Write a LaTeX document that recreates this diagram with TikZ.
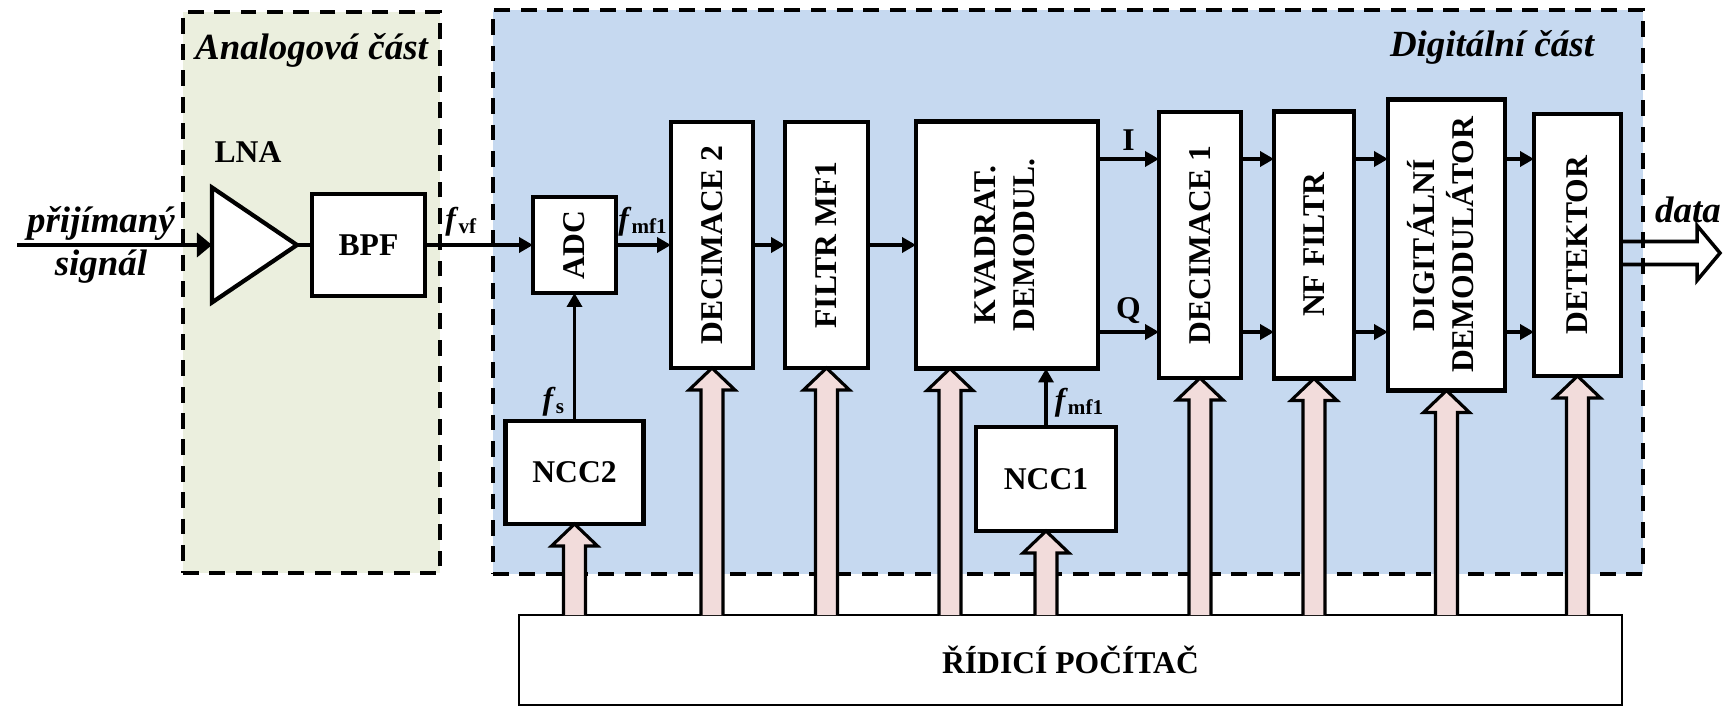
\documentclass[tikz,border=0pt]{standalone}
\usepackage{fontspec}
\setmainfont{Liberation Serif}
\usepackage{tikz}
\usetikzlibrary{arrows.meta, positioning, shapes.geometric, calc}
\definecolor{analogfill}{HTML}{EBEFDE}
\definecolor{digitalfill}{HTML}{C6D9F0}
\definecolor{busfill}{HTML}{F2DCDB}

\begin{document}
\begin{tikzpicture}[
    blk/.style={rectangle, draw, fill=white, line width=1.2pt, inner sep=0pt, outer sep=0pt, align=center, font=\fontsize{9}{11}\selectfont\bfseries},
    region/.style={rectangle, draw, fill=#1, line width=1.2pt, dash pattern=on 4.5pt off 3pt, inner sep=0pt, outer sep=0pt},
    part/.style={font=\fontsize{10.5}{12}\selectfont\bfseries\itshape, inner sep=1pt},
    amp/.style={isosceles triangle, isosceles triangle stretches, draw, fill=white, line width=1.2pt, inner sep=0pt, outer sep=0pt, minimum width=1.15cm, minimum height=0.85cm},
    wire/.style={line width=1pt},
    sig/.style={wire, -{Triangle[length=1.4mm, width=1.5mm]}},
    bus/.style={draw, fill=busfill, line width=0.9pt},
    freq/.style={font=\fontsize{9}{11}\selectfont\bfseries, inner sep=2pt},
  ]
  \useasboundingbox (0,0) rectangle (17.29,7.07);

  % analog and digital parts
  \node[region=analogfill, minimum width=2.57cm, minimum height=5.61cm, anchor=south west] (analog) at (1.83,1.34) {};
  \node[region=digitalfill, minimum width=11.50cm, minimum height=5.64cm, anchor=south west] (digital) at (4.93,1.33) {};
  \node[part] (analoglbl) at ([yshift=-3.8mm]analog.north) {Analogová část};
  \node[part] (digitallbl) at ([xshift=-15.1mm, yshift=-3.7mm]digital.north east) {Digitální část};

  % receive chain
  \node[blk, minimum width=1.13cm, minimum height=1.02cm] (bpf) at (3.685,4.62) {BPF};
  \node[amp, left=0.15cm of bpf] (lna) {};
  \node[freq] (lnalbl) at (2.48,5.55) {LNA};
  \node[blk, minimum width=0.83cm, minimum height=0.96cm, right=1.08cm of bpf] (adc) {\rotatebox{90}{ADC}};
  \node[blk, minimum width=0.82cm, minimum height=2.46cm, right=0.55cm of adc] (dec2) {\rotatebox{90}{DECIMACE 2}};
  \node[blk, minimum width=0.83cm, minimum height=2.46cm, right=0.32cm of dec2] (mf1) {\rotatebox{90}{FILTR MF1}};
  \node[blk, minimum width=1.82cm, minimum height=2.47cm, right=0.48cm of mf1] (kvad) {\rotatebox{90}{\begin{tabular}{@{}c@{}}KVADRAT.\\DEMODUL.\end{tabular}}};
  \node[blk, minimum width=0.82cm, minimum height=2.66cm, right=0.61cm of kvad] (dec1) {\rotatebox{90}{DECIMACE 1}};
  \node[blk, minimum width=0.80cm, minimum height=2.67cm, right=0.33cm of dec1] (nf) {\rotatebox{90}{NF FILTR}};
  \node[blk, minimum width=1.17cm, minimum height=2.91cm, right=0.34cm of nf] (demod) {\rotatebox{90}{\begin{tabular}{@{}c@{}}DIGITÁLNÍ\\DEMODULÁTOR\end{tabular}}};
  \node[blk, minimum width=0.87cm, minimum height=2.62cm, right=0.29cm of demod] (det) {\rotatebox{90}{DETEKTOR}};

  \node[blk, minimum width=1.38cm, minimum height=1.03cm, below=1.28cm of adc] (ncc2) {NCC2};
  \node[blk, minimum width=1.40cm, minimum height=1.04cm] (ncc1) at (10.46,2.28) {NCC1};
  \node[blk, line width=0.8pt, minimum width=11.03cm, minimum height=0.90cm] (pc) at (10.705,0.47) {ŘÍDICÍ POČÍTAČ};

  \node[part, align=center] (rxlbl) at (1.01,4.62) {přijímaný\\signál};
  \coordinate (rxin) at (0.17,4.62);

  \draw[wire, -{Triangle[length=1.5mm, width=2.4mm]}] (rxin) -- (lna.west);
  \draw[wire] (lna.east) -- (bpf.west);
  \draw[sig] (bpf) -- node[freq, above, pos=0.34] (fvf) {\textit{f}\textsubscript{vf}} (adc);
  \draw[sig] (adc) -- node[freq, above] (fmfa) {\textit{f}\textsubscript{mf1}} (dec2);
  \draw[sig] (dec2) -- (mf1);
  \draw[sig] (mf1) -- (kvad);
  \draw[sig] (ncc2) -- node[freq, left, pos=0.15] (fs) {\textit{f}\textsubscript{s}} (adc);
  \draw[sig] (ncc1) -- node[freq, right, pos=0.42] (fmfb) {\textit{f}\textsubscript{mf1}} (ncc1 |- kvad.south);

  % I and Q branches
  \coordinate (iout) at ([yshift=8.6mm]kvad.east);
  \coordinate (qout) at ([yshift=-8.7mm]kvad.east);
  \draw[sig] (iout) -- node[freq, above] (ilbl) {I} (iout -| dec1.west);
  \draw[sig] (qout) -- node[freq, above] (qlbl) {Q} (qout -| dec1.west);
  \foreach \a/\b in {dec1/nf, nf/demod, demod/det} {
    \draw[sig] (iout -| \a.east) -- (iout -| \b.west);
    \draw[sig] (qout -| \a.east) -- (qout -| \b.west);
  }

  % data output
  \coordinate (dataout) at ([yshift=-0.8mm]det.east);
  \coordinate (datatip) at ([xshift=9.9mm]dataout);
  \draw[wire] ([yshift=1.15mm]dataout) -- ($(datatip)+(-2.3mm,1.15mm)$) -- ($(datatip)+(-2.3mm,2.75mm)$) -- (datatip)
    -- ($(datatip)+(-2.3mm,-2.75mm)$) -- ($(datatip)+(-2.3mm,-1.15mm)$) -- ([yshift=-1.15mm]dataout);
  \node[part] (datalbl) at (16.88,4.97) {data};

  % control bus
  \coordinate (kvadctl) at ([xshift=-5.7mm]kvad.south);
  \foreach \t in {ncc2.south, dec2.south, mf1.south, kvadctl, ncc1.south, dec1.south, nf.south, demod.south, det.south}
    \draw[bus] ($(\t |- pc.north)+(-1.1mm,0)$) -- ($(\t)+(-1.1mm,-2.2mm)$) -- ($(\t)+(-2.3mm,-2.2mm)$) -- (\t)
      -- ($(\t)+(2.3mm,-2.2mm)$) -- ($(\t)+(1.1mm,-2.2mm)$) -- ($(\t |- pc.north)+(1.1mm,0)$);
\end{tikzpicture}
\end{document}
